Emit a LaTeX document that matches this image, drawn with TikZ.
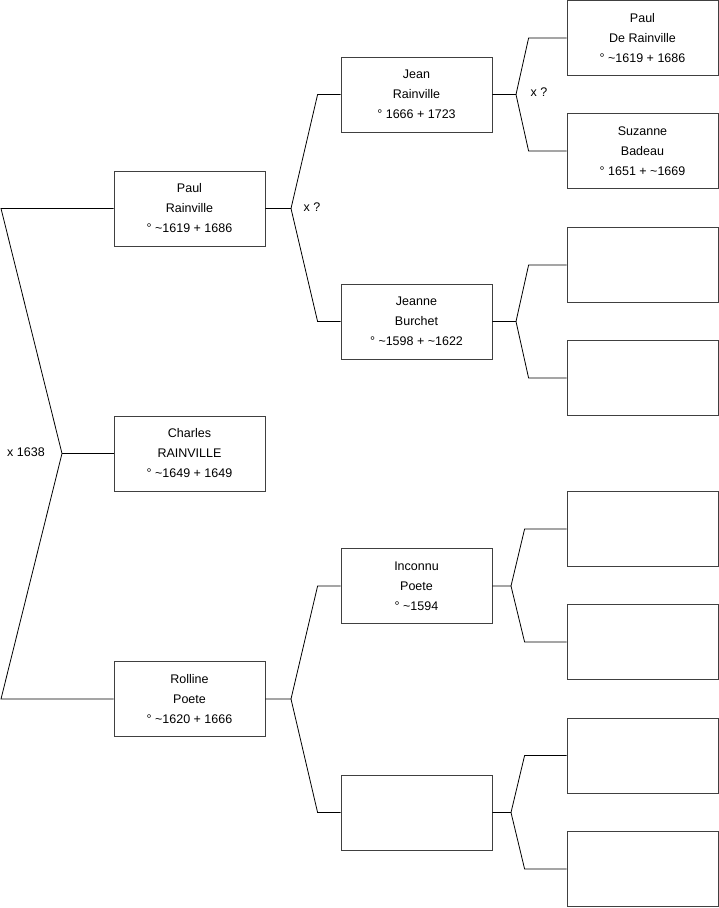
\documentclass[tikz,border=0pt]{standalone}
\usepackage{fontspec}
\setmainfont{Liberation Sans}
\usepackage{tikz}

\tikzset{
  pbox/.style={draw=black!75,fill=white,minimum width=151pt,minimum height=75pt,inner sep=0pt,align=center,font=\fontsize{12.5}{20}\selectfont},
  note/.style={font=\fontsize{12.5}{14}\selectfont,inner sep=0pt}
}

\begin{document}
\begin{tikzpicture}[x=1pt,y=-1pt,line width=0.8pt]
\useasboundingbox (0,0) rectangle (719,908);
\node[pbox] (paul) at (189.5,208.5) {Paul\\Rainville\\° \textasciitilde1619 + 1686};
\node[pbox] (charles) at (189.5,453.5) {Charles\\RAINVILLE\\° \textasciitilde1649 + 1649};
\node[pbox] (rolline) at (189.5,699) {Rolline\\Poete\\° \textasciitilde1620 + 1666};
\node[pbox] (jean) at (416.5,94.5) {Jean\\Rainville\\° 1666 + 1723};
\node[pbox] (jeanne) at (416.5,321.5) {Jeanne\\Burchet\\° \textasciitilde1598 + \textasciitilde1622};
\node[pbox] (inconnu) at (416.5,586) {Inconnu\\Poete\\° \textasciitilde1594};
\node[pbox] (vide) at (416.5,812.5) {};
\node[pbox] (pauldr) at (642.5,38) {Paul\\De Rainville\\° \textasciitilde1619 + 1686};
\node[pbox] (suzanne) at (642.5,151) {Suzanne\\Badeau\\° 1651 + \textasciitilde1669};
\node[pbox] (videa) at (642.5,265) {};
\node[pbox] (videb) at (642.5,378) {};
\node[pbox] (videc) at (642.5,529) {};
\node[pbox] (vided) at (642.5,642) {};
\node[pbox] (videe) at (642.5,755.5) {};
\node[pbox] (videf) at (642.5,869) {};
\coordinate (top) at (1,208.5);
\coordinate (bot) at (1,699);
\coordinate (m0) at (62,453.5);
\coordinate (m1) at (291,208.5);
\coordinate (m2) at (291,699);
\coordinate (m3) at (516,94.5);
\coordinate (m4) at (516,321.5);
\coordinate (m5) at (511,586);
\coordinate (m6) at (511,812.5);
\draw (paul.west) -- (top) -- (m0) -- (bot) -- (rolline.west);
\draw (m0) -- (charles.west);
\draw (paul.east) -- (m1) -- ([xshift=-23pt]jean.west) -- (jean.west);
\draw (m1) -- ([xshift=-23pt]jeanne.west) -- (jeanne.west);
\draw (rolline.east) -- (m2) -- ([xshift=-23pt]inconnu.west) -- (inconnu.west);
\draw (m2) -- ([xshift=-23pt]vide.west) -- (vide.west);
\draw (jean.east) -- (m3) -- ([xshift=-38pt]pauldr.west) -- (pauldr.west);
\draw (m3) -- ([xshift=-38pt]suzanne.west) -- (suzanne.west);
\draw (jeanne.east) -- (m4) -- ([xshift=-38pt]videa.west) -- (videa.west);
\draw (m4) -- ([xshift=-38pt]videb.west) -- (videb.west);
\draw (inconnu.east) -- (m5) -- ([xshift=-42pt]videc.west) -- (videc.west);
\draw (m5) -- ([xshift=-42pt]vided.west) -- (vided.west);
\draw (vide.east) -- (m6) -- ([xshift=-42pt]videe.west) -- (videe.west);
\draw (m6) -- ([xshift=-42pt]videf.west) -- (videf.west);
\node[note] (xa) at (26,452) {x 1638};
\node[note] (xb) at (312,207) {x ?};
\node[note] (xc) at (539,92) {x ?};
\end{tikzpicture}
\end{document}
